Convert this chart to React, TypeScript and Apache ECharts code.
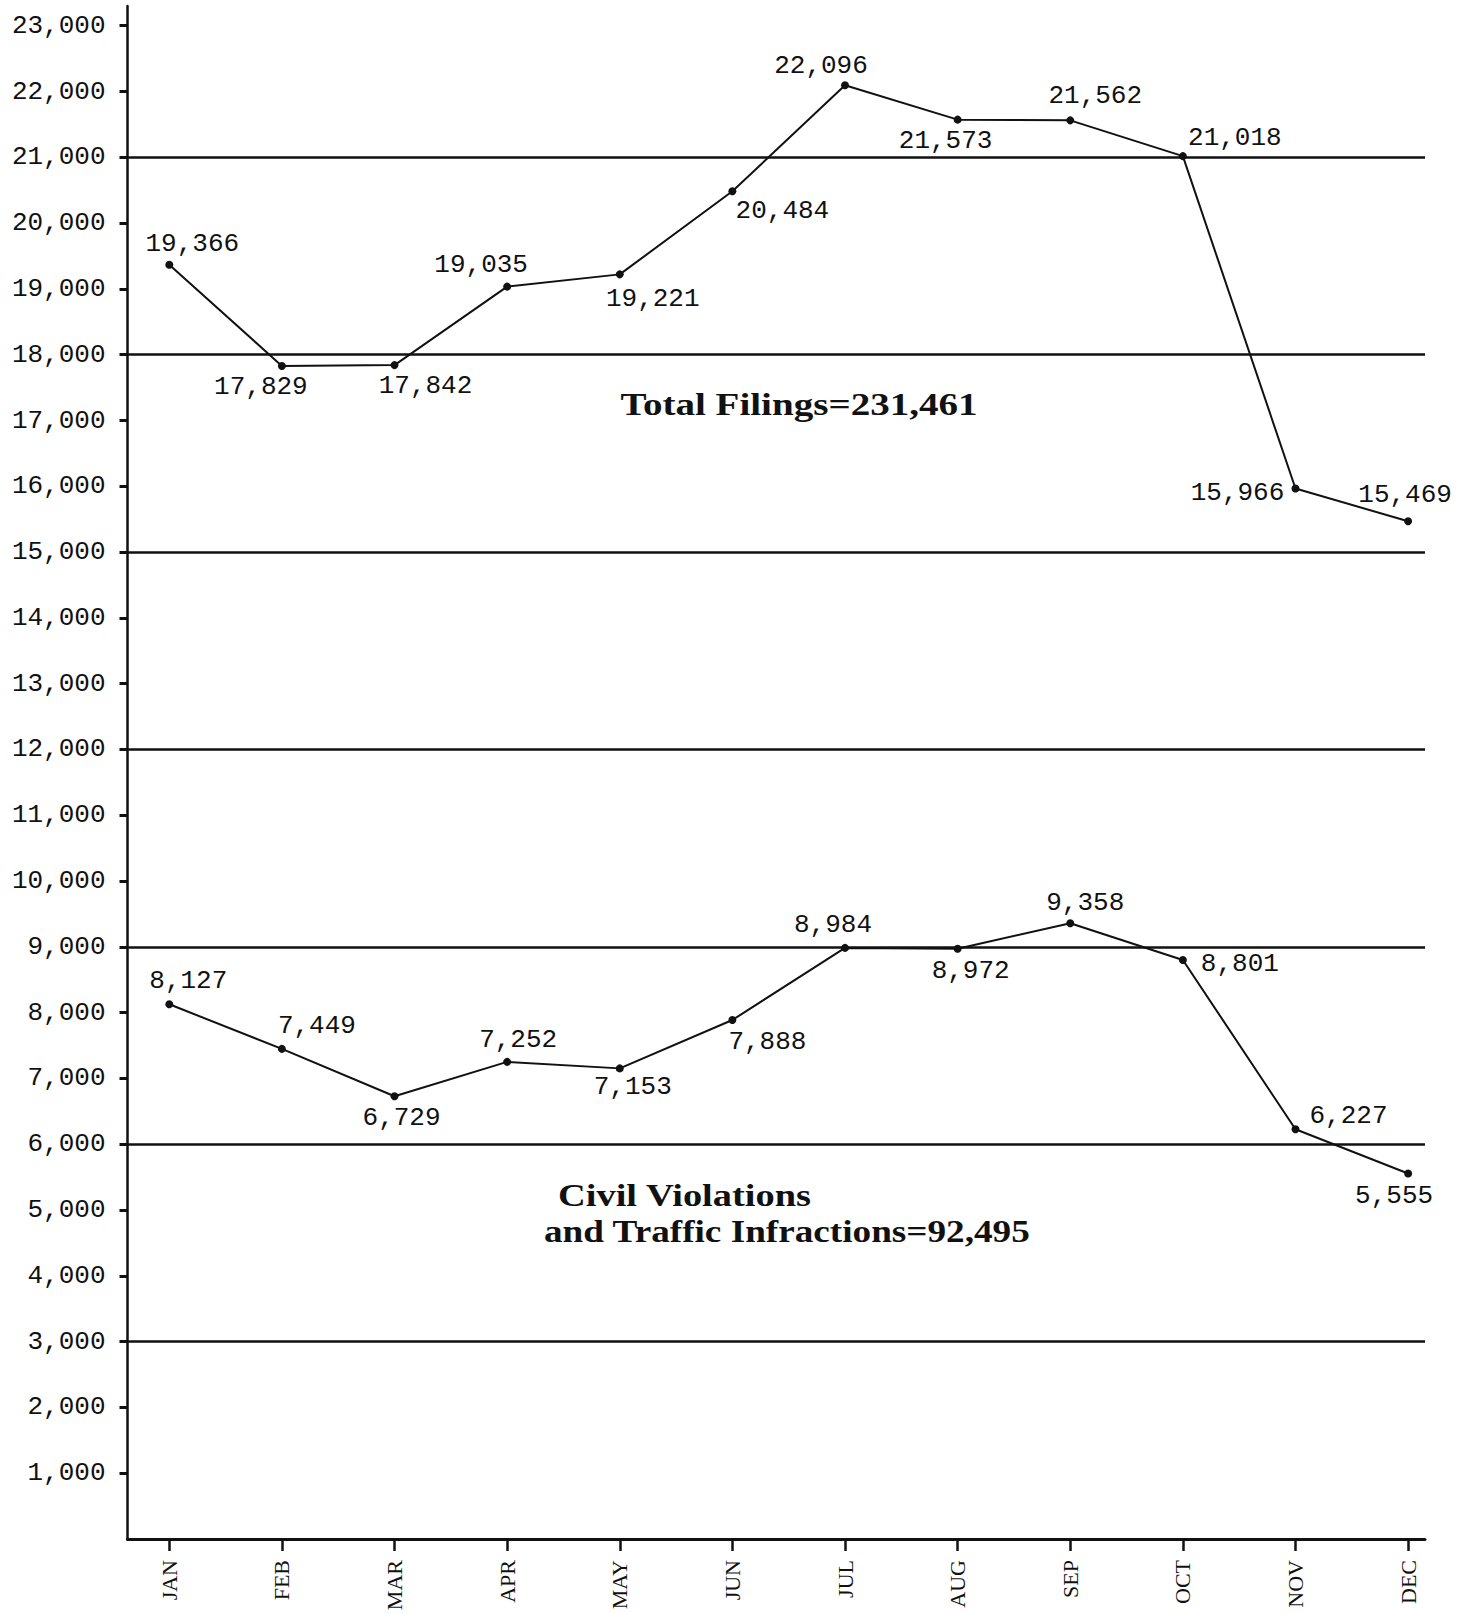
import React, { useEffect, useRef } from "react";
import * as echarts from "echarts";

const months = ["JAN", "FEB", "MAR", "APR", "MAY", "JUN", "JUL", "AUG", "SEP", "OCT", "NOV", "DEC"];
const totalFilings = [19366, 17829, 17842, 19035, 19221, 20484, 22096, 21573, 21562, 21018, 15966, 15469];
const civilViolations = [8127, 7449, 6729, 7252, 7153, 7888, 8984, 8972, 9358, 8801, 6227, 5555];
const yTickValues = [
  1000, 2000, 3000, 4000, 5000, 6000, 7000, 8000, 9000, 10000, 11000, 12000,
  13000, 14000, 15000, 16000, 17000, 18000, 19000, 20000, 21000, 22000, 23000,
];
const gridLineValues = [3000, 6000, 9000, 12000, 15000, 18000, 21000];
const totalText = "Total Filings=231,461";
const civilText1 = "Civil Violations";
const civilText2 = "and Traffic Infractions=92,495";

// label placement (pixel offsets from each point)
const totalLabelOffsets = [
  [23, -21], [-21, 21], [31, 21], [-26, -22], [33, 25], [50, 20],
  [-24, -19], [-12, 21], [25, -24], [52, -18], [-58, 4], [-3, -26],
];
const civilLabelOffsets = [
  [19, -23], [35, -23], [7, 22], [11, -22], [13, 19], [35, 22],
  [-12, -23], [13, 22], [15, -20], [57, 4], [53, -13], [-14, 22],
];

const fmt = (v: number) => String(v).replace(/\B(?=(\d{3})+(?!\d))/g, ",");

const MONO = '"Liberation Mono", "DejaVu Sans Mono", monospace';
const SERIF = '"Liberation Serif", "DejaVu Serif", serif';
const INK = "#111";

export default function App() {
  const ref = useRef<HTMLDivElement>(null);
  useEffect(() => {
    if (!ref.current) return;
    const chart = echarts.init(ref.current, null, { renderer: "svg" });
    const labelStyle = {
      show: true,
      position: "inside",
      fontFamily: MONO,
      fontSize: 26,
      color: INK,
      formatter: (p: any) => fmt(p.value[1]),
    };
    const lineSeries = (vals: number[], offs: number[][], withGrid: boolean) => ({
      type: "line",
      data: vals.map((v, i) => ({ value: [i, v], label: { offset: offs[i] } })),
      symbol: "circle",
      symbolSize: 8,
      itemStyle: { color: INK },
      lineStyle: { color: INK, width: 2 },
      label: labelStyle,
      z: 3,
      markLine: withGrid
        ? {
            silent: true,
            symbol: ["none", "none"],
            label: { show: false },
            lineStyle: { color: INK, width: 2.5, type: "solid" },
            data: gridLineValues.map((v) => ({ yAxis: v })),
          }
        : undefined,
    });
    const tf = (t: string, x: number, y: number, sx: number, align: string) => ({
      type: "text",
      x,
      y,
      scaleX: sx,
      style: {
        text: t,
        font: `bold 31px ${SERIF}`,
        fill: INK,
        align,
        verticalAlign: "middle",
      },
    });
    chart.setOption({
      animation: false,
      backgroundColor: "#fff",
      grid: { left: 127.5, right: 46, top: 6, bottom: 75, outerBoundsMode: "none", containLabel: false },
      xAxis: {
        type: "value",
        min: -0.371,
        max: 11.15,
        splitLine: { show: false },
        axisLine: { show: true, onZero: false, lineStyle: { color: INK, width: 3 } },
        axisTick: {
          show: true,
          inside: false,
          length: 12,
          lineStyle: { color: INK, width: 2.5 },
          customValues: months.map((_, i) => i),
        },
        axisLabel: {
          rotate: 90,
          margin: 21,
          fontFamily: SERIF,
          fontSize: 22,
          color: INK,
          customValues: months.map((_, i) => i),
          formatter: (v: number) => months[Math.round(v)] ?? "",
        },
      },
      yAxis: {
        type: "value",
        min: 0,
        max: 23300,
        splitLine: { show: false },
        axisLine: { show: true, onZero: false, lineStyle: { color: INK, width: 2.5 } },
        axisTick: {
          show: true,
          length: 8,
          lineStyle: { color: INK, width: 3 },
          customValues: yTickValues,
        },
        axisLabel: {
          margin: 22,
          fontFamily: MONO,
          fontSize: 26,
          color: INK,
          customValues: yTickValues,
          formatter: (v: number) => fmt(v),
        },
      },
      series: [
        lineSeries(totalFilings, totalLabelOffsets, true),
        lineSeries(civilViolations, civilLabelOffsets, false),
      ],
      graphic: [
        tf(totalText, 799, 405, 1.26, "center"),
        tf(civilText1, 558, 1196, 1.24, "left"),
        tf(civilText2, 544, 1231, 1.2, "left"),
      ],
    });
    return () => chart.dispose();
  }, []);
  return (
    <div
      ref={ref}
      style={{ position: "absolute", left: 0, top: 0, width: 1471, height: 1614, background: "#fff" }}
    />
  );
}
